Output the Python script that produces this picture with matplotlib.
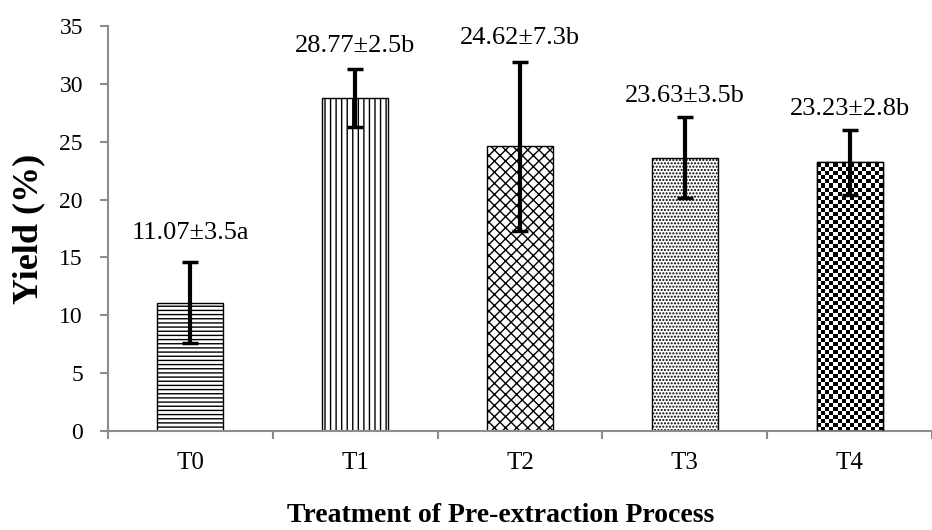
import numpy as np
import matplotlib
matplotlib.use("Agg")
import matplotlib.pyplot as plt

# data
treatments = ["T0", "T1", "T2", "T3", "T4"]
yield_mean = [11.07, 28.77, 24.62, 23.63, 23.23]
yield_sd = [3.5, 2.5, 7.3, 3.5, 2.8]
letters = ["a", "b", "b", "b", "b"]

hatches = ["----", "|||", "xxx", ".....", None]
label_offsets = [21, 17, 17, 15, 15]  # points above error bar top

plt.rcParams["font.family"] = ["Liberation Serif", "DejaVu Serif"]
plt.rcParams["hatch.linewidth"] = 1.0

fig = plt.figure(figsize=(9.32, 5.30), dpi=100)
ax = fig.add_axes([108 / 932, 99 / 530, 824 / 932, 405 / 530])

x = np.arange(len(treatments))
bars = ax.bar(x, yield_mean, width=0.4, color="white", edgecolor="black",
              linewidth=1.0, hatch=hatches, zorder=2)

# checkerboard fill for T4 (no built-in hatch for it)
checker = (np.indices((72, 16)).sum(axis=0) % 2).astype(float)
b = bars[4]
img = ax.imshow(checker, cmap="gray", interpolation="nearest", aspect="auto",
                extent=(b.get_x(), b.get_x() + b.get_width(), 0, b.get_height() + 2),
                zorder=2.5)
img.set_clip_path(b)
ax.bar(x[4], yield_mean[4], width=0.4, color="none", edgecolor="black",
       linewidth=1.0, zorder=3)

ax.errorbar(x, yield_mean, yerr=yield_sd, fmt="none", ecolor="black",
            elinewidth=3.0, capsize=6, capthick=2.5, zorder=4)

for xi, m, s, let, off in zip(x, yield_mean, yield_sd, letters, label_offsets):
    ax.annotate(f"{m:.2f}\u00b1{s}{let}", (xi, m + s), xytext=(0, off),
                textcoords="offset points", ha="center", va="center",
                fontsize=19)

ax.set_xlim(-0.5, -0.5 + 824 / 167)
ax.set_ylim(0, 35)
ax.set_yticks(range(0, 36, 5))
ax.set_xticks(x)
ax.set_xticklabels(treatments)
ax.set_xticks(np.arange(-0.5, 5, 1), minor=True)

for side in ["top", "right"]:
    ax.spines[side].set_visible(False)
for side in ["left", "bottom"]:
    ax.spines[side].set_color("#8c8c8c")
    ax.spines[side].set_linewidth(1.5)

ax.tick_params(axis="y", length=6, width=1.5, color="#8c8c8c", pad=12,
               labelsize=17)
ax.tick_params(axis="x", which="major", length=0, pad=15, labelsize=18)
ax.tick_params(axis="x", which="minor", length=6, width=1.5, color="#8c8c8c")

ax.set_ylabel("Yield (%)", fontsize=26, fontweight="bold", labelpad=10)
ax.set_xlabel("Treatment of Pre-extraction Process", fontsize=20,
              fontweight="bold")
ax.xaxis.set_label_coords(0.476, -0.178)

fig.savefig("out.png", dpi=100)
